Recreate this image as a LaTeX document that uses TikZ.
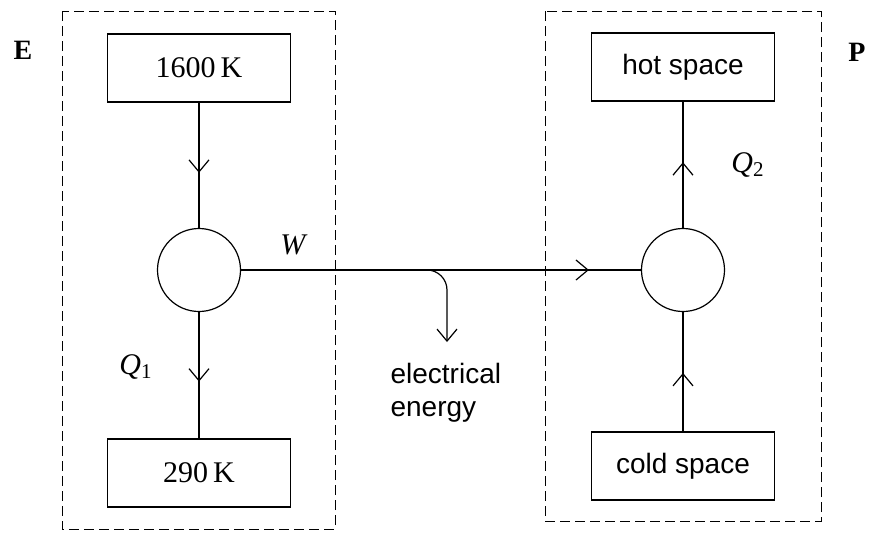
\documentclass[tikz,border=0pt]{standalone}
\usepackage{fontspec}
\setmainfont{Liberation Serif}
\setsansfont{Liberation Sans}
\usetikzlibrary{arrows.meta,decorations.markings}

\begin{document}
\begin{tikzpicture}
	[x=0.5pt, y=-0.5pt, line width=0.6pt,
	tank/.style={draw, rectangle, minimum width=91.5pt, minimum height=34pt, inner sep=0pt},
	device/.style={draw, circle, minimum size=41.5pt, inner sep=0pt},
	region/.style={dash pattern=on 5pt off 2.5pt, line width=0.5pt},
	barb/.tip={Straight Barb[length=6pt,width=10pt]},
	flow/.style={postaction={decorate}, decoration={markings, mark=at position #1 with {\arrow{barb}}}},
	serif/.style={font=\fontsize{15}{18}\selectfont},
	sans/.style={font=\sffamily\fontsize{14}{16.5}\selectfont}]
	\useasboundingbox (0,0) rectangle (869,532);
	\draw[region] (62,11) rectangle (335,529);
	\draw[region] (545,11) rectangle (821,521);
	\node[font=\bfseries\fontsize{14}{17}\selectfont] (E) at (23,50) {E};
	\node[font=\bfseries\fontsize{14}{17}\selectfont] (P) at (857,52) {P};
	\node[tank, serif] (hi) at (199,68) {1600\,K};
	\node[tank, serif] (lo) at (199,473) {290\,K};
	\node[tank, sans] (hot) at (683,67) {hot space};
	\node[tank, sans] (cold) at (683,466) {cold space};
	\node[device] (engine) at (199,270) {};
	\node[device] (pump) at (683,270) {};
	\node[serif] (W) at (294,245) {\textit{W}};
	\node[serif] (Q1) at (136,367) {\textit{Q}\textsubscript{1}};
	\node[serif] (Q2) at (748,165) {\textit{Q}\textsubscript{2}};
	\node[sans, align=left, anchor=west, inner sep=0pt] (electext) at (390,393) {electrical\\energy};
	\coordinate (split) at (427,270);
	\coordinate (elec) at (447,342);
	\draw[flow=0.56] (hi) -- (engine);
	\draw[flow=0.55] (engine) -- (lo);
	\draw[flow=0.87] (engine) -- (pump);
	\draw[flow=0.49] (cold) -- (pump);
	\draw[flow=0.52] (pump) -- (hot);
	\draw[-barb, rounded corners=10pt] (split) -| (elec);
\end{tikzpicture}
\end{document}
